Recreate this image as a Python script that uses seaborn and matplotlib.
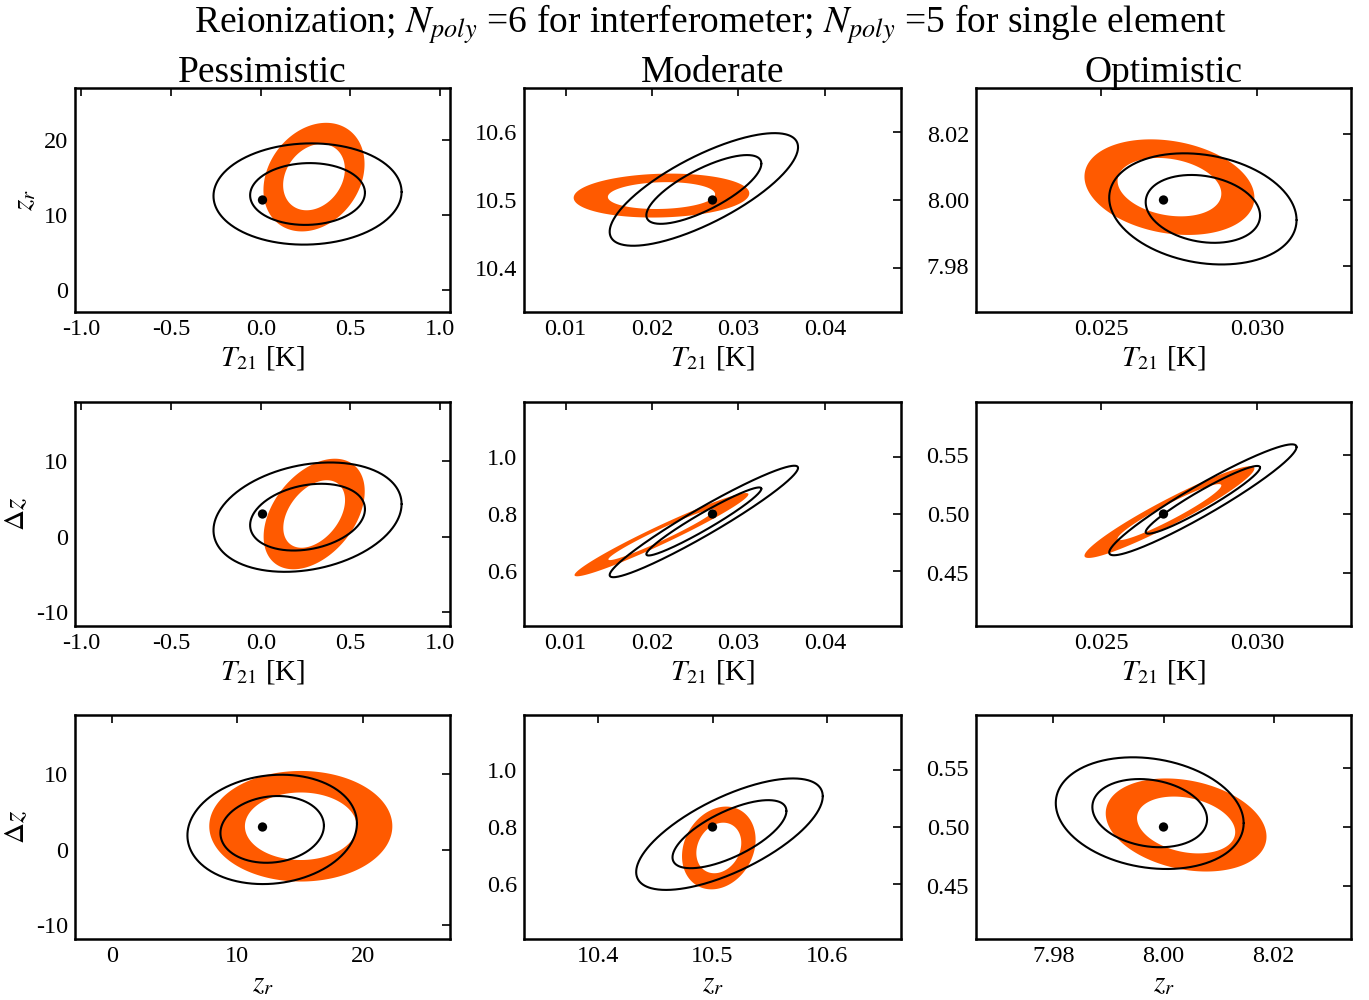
import numpy as np
import matplotlib
matplotlib.use("Agg")
import matplotlib.pyplot as plt
from matplotlib.path import Path
from matplotlib.patches import PathPatch
from matplotlib.ticker import FixedLocator, FormatStrFormatter
import seaborn as sns

# ---------------- data ----------------
SCENARIOS = ["Pessimistic", "Moderate", "Optimistic"]
PANEL_PAIRS = [("T21", "zr"), ("T21", "dz"), ("zr", "dz")]
PARAM_LABELS = {"T21": r"$T_{21}$ [K]", "zr": r"$z_r$", "dz": r"$\Delta z$"}

FIDUCIAL = {"T21": [0.01, 0.027, 0.027], "zr": [12.0, 10.5, 8.0], "dz": [3.0, 0.8, 0.5]}
HALF_RANGE = {"T21": [1.045, 0.0218, 0.006], "zr": [14.93, 0.1645, 0.034], "dz": [14.93, 0.39, 0.0946]}
TICKS = {
    "T21": [[-1.0, -0.5, 0.0, 0.5, 1.0], [0.01, 0.02, 0.03, 0.04], [0.025, 0.030]],
    "zr": [[0, 10, 20], [10.4, 10.5, 10.6], [7.98, 8.00, 8.02]],
    "dz": [[-10, 0, 10], [0.6, 0.8, 1.0], [0.45, 0.50, 0.55]],
}
TICK_FMT = {"T21": ["%.1f", "%.2f", "%.3f"], "zr": ["%d", "%.1f", "%.2f"], "dz": ["%d", "%.1f", "%.2f"]}

# confidence levels (delta chi^2 for 2 parameters: 68%, 95%)
DCHI2 = [2.30, 6.17]

# orange (filled ring) ellipses, 68% half-extents; rows = panel rows, cols = scenarios
ORANGE_CX = [[0.297, 0.0211, 0.02719], [0.298, 0.0211, 0.02719], [15.05, 10.5055, 8.0041]]
ORANGE_CY = [[15.05, 10.5065, 8.0039], [3.0, 0.728, 0.5016], [3.1, 0.727, 0.5017]]
ORANGE_SX = [[0.172, 0.0062, 0.00166], [0.172, 0.00614, 0.00166], [4.45, 0.0196, 0.0089]]
ORANGE_SY = [[4.42, 0.0197, 0.00886], [4.5, 0.0885, 0.02364], [4.5, 0.088, 0.024]]
ORANGE_R = [[0.24, 0.10, -0.22], [0.41, 0.97, 0.95], [0.0, 0.20, -0.25]]

# black (outline) ellipses, 68% half-extents
BLACK_CX = [[0.261, 0.0260, 0.02826], [0.261, 0.0260, 0.02826], [12.77, 10.5148, 7.9975]]
BLACK_CY = [[12.8, 10.5155, 7.9973], [2.58, 0.774, 0.5120], [2.68, 0.775, 0.5117]]
BLACK_SX = [[0.32, 0.00665, 0.00183], [0.32, 0.00665, 0.00183], [4.12, 0.0497, 0.0104]]
BLACK_SY = [[4.12, 0.0505, 0.0103], [4.45, 0.1185, 0.0286], [4.45, 0.1185, 0.0288]]
BLACK_R = [[0.04, 0.75, -0.20], [0.24, 0.96, 0.95], [0.11, 0.68, -0.18]]

ORANGE = "#ff5a00"

# ---------------- style ----------------
sns.set_theme(style="white")
plt.rcParams["font.family"] = ["Liberation Serif", "DejaVu Serif"]
plt.rcParams["mathtext.fontset"] = "stix"
plt.rcParams["axes.unicode_minus"] = False
plt.rcParams["axes.edgecolor"] = "black"
plt.rcParams["axes.linewidth"] = 1.8
plt.rcParams["text.color"] = "black"
plt.rcParams["axes.labelcolor"] = "black"
plt.rcParams["xtick.color"] = "black"
plt.rcParams["ytick.color"] = "black"


def ellipse_xy(cx, cy, sx, sy, r, k, n=400):
    t = np.linspace(0, 2 * np.pi, n)
    x = cx + k * sx * np.cos(t)
    y = cy + k * sy * (r * np.cos(t) + np.sqrt(1 - r * r) * np.sin(t))
    return x, y


fig = plt.figure(figsize=(13.69, 10), dpi=100)
W, H = 1369.0, 1000.0
col_left = [75, 524, 976]
col_width = [375, 377, 375]
row_top = [88, 402, 715]
row_height = 224

scales = [np.sqrt(d / DCHI2[0]) for d in DCHI2]

for i, (px, py) in enumerate(PANEL_PAIRS):
    for j in range(3):
        ax = fig.add_axes([col_left[j] / W, 1 - (row_top[i] + row_height) / H,
                           col_width[j] / W, row_height / H])
        # orange ring
        ox1, oy1 = ellipse_xy(ORANGE_CX[i][j], ORANGE_CY[i][j], ORANGE_SX[i][j],
                              ORANGE_SY[i][j], ORANGE_R[i][j], scales[0])
        ox2, oy2 = ellipse_xy(ORANGE_CX[i][j], ORANGE_CY[i][j], ORANGE_SX[i][j],
                              ORANGE_SY[i][j], ORANGE_R[i][j], scales[1])
        verts = np.concatenate([np.column_stack([ox2, oy2]),
                                np.column_stack([ox1[::-1], oy1[::-1]])])
        n = len(ox1)
        codes = ([Path.MOVETO] + [Path.LINETO] * (n - 2) + [Path.CLOSEPOLY]) * 2
        ax.add_patch(PathPatch(Path(verts, codes), facecolor=ORANGE, edgecolor="none",
                               zorder=1))
        # black contours
        for k in scales:
            bx, by = ellipse_xy(BLACK_CX[i][j], BLACK_CY[i][j], BLACK_SX[i][j],
                                BLACK_SY[i][j], BLACK_R[i][j], k)
            sns.lineplot(x=bx, y=by, sort=False, estimator=None, color="black",
                         linewidth=1.5, ax=ax, zorder=3)
        # fiducial point
        sns.scatterplot(x=[FIDUCIAL[px][j]], y=[FIDUCIAL[py][j]], color="black",
                        s=45, edgecolor="none", ax=ax, zorder=5)

        ax.set_xlim(FIDUCIAL[px][j] - HALF_RANGE[px][j], FIDUCIAL[px][j] + HALF_RANGE[px][j])
        ax.set_ylim(FIDUCIAL[py][j] - HALF_RANGE[py][j], FIDUCIAL[py][j] + HALF_RANGE[py][j])
        ax.xaxis.set_major_locator(FixedLocator(TICKS[px][j]))
        ax.yaxis.set_major_locator(FixedLocator(TICKS[py][j]))
        ax.xaxis.set_major_formatter(FormatStrFormatter(TICK_FMT[px][j]))
        ax.yaxis.set_major_formatter(FormatStrFormatter(TICK_FMT[py][j]))
        ax.tick_params(direction="in", top=True, right=True, length=6, width=1.2,
                       labelsize=17.5, pad=5)
        for s in ax.spines.values():
            s.set_linewidth(1.8)
            s.set_color("black")
        ax.set_xlabel(PARAM_LABELS[px], fontsize=21, labelpad=3)
        if j == 0:
            ax.set_ylabel(PARAM_LABELS[py], fontsize=21, labelpad=4)
        else:
            ax.set_ylabel("")
        if i == 0:
            ax.set_title(SCENARIOS[j], fontsize=27, pad=4)

fig.text(710 / W, 1 - 33 / H,
         r"Reionization; $N_{poly}$ =6 for interferometer; $N_{poly}$ =5 for single element",
         ha="center", va="baseline", fontsize=27)

fig.savefig("out.png", dpi=100, facecolor="white")
